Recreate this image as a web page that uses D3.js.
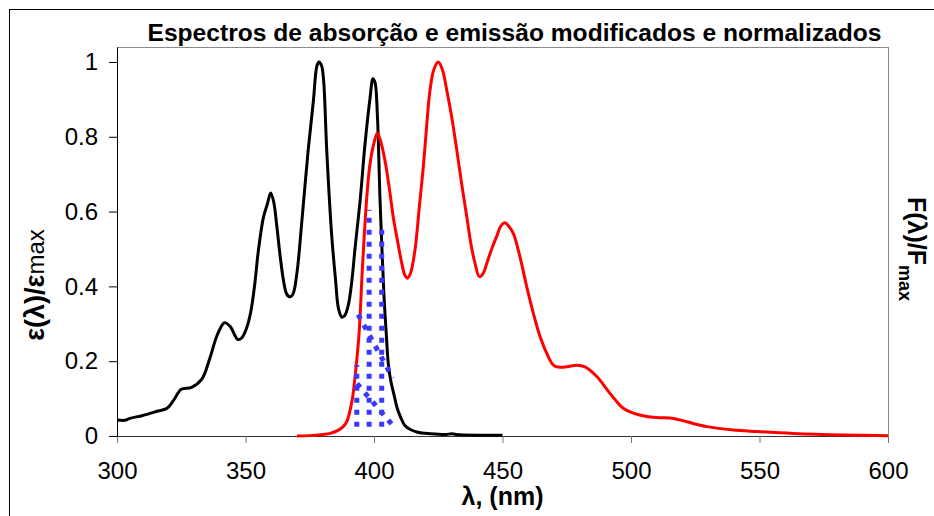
<!DOCTYPE html>
<html>
<head>
<meta charset="utf-8">
<script src="https://cdn.jsdelivr.net/npm/d3@7"></script>
<style>
  body { margin: 0; background: #fff; }
  svg { display: block; font-family: Arial, "Liberation Sans", sans-serif; }
</style>
</head>
<body>
<div id="chart"></div>
<script>
// Absorption spectrum (black), normalised
var absWavelength = [300, 303, 305, 310, 316, 319.5, 322, 325, 329, 333, 336, 339, 341.8, 344, 347, 348.5, 350.5, 352, 353.5, 355, 357, 358.5, 359.8, 361, 362.2, 363.5, 364.8, 366, 367.3, 368.5, 370, 372, 374.4, 376.4, 377.8, 378.6, 379.6, 380.4, 381.6, 383.5, 385, 386.2, 387.5, 388.6, 390, 391.3, 392.6, 394.6, 396.5, 398.4, 399.6, 400.4, 401.3, 402.3, 402.8, 403.4, 404, 404.8, 405.6, 406.6, 407.8, 409, 410.5, 412, 414, 417, 422, 428, 430, 432, 440, 450];
var absValue = [0.043, 0.042, 0.047, 0.055, 0.067, 0.074, 0.095, 0.125, 0.13, 0.152, 0.205, 0.27, 0.303, 0.293, 0.258, 0.262, 0.29, 0.33, 0.4, 0.495, 0.585, 0.62, 0.65, 0.625, 0.56, 0.48, 0.415, 0.38, 0.372, 0.38, 0.435, 0.58, 0.765, 0.895, 0.99, 1.0, 0.99, 0.95, 0.765, 0.54, 0.42, 0.34, 0.318, 0.322, 0.35, 0.41, 0.5, 0.63, 0.78, 0.9, 0.955, 0.945, 0.86, 0.64, 0.55, 0.45, 0.36, 0.27, 0.19, 0.145, 0.11, 0.075, 0.048, 0.028, 0.018, 0.01, 0.006, 0.004, 0.006, 0.004, 0.002, 0.002];

// Emission spectrum (red), normalised
var emWavelength = [370, 375, 380, 383, 386, 388, 389.5, 391.5, 392.8, 394.2, 395.5, 397.1, 398.3, 399.7, 401.3, 402.5, 404.3, 406, 407.5, 409.2, 410.8, 412, 413, 414.2, 416, 417.6, 419.2, 420.5, 421.8, 423.3, 425, 426.6, 428.3, 430.3, 432.2, 434.2, 436.1, 437.8, 439.3, 441, 442.5, 443.9, 445.8, 447.7, 449.5, 451, 452.5, 454.2, 456.8, 459.4, 462, 464.6, 467.8, 469.5, 471, 475, 478.9, 482.1, 486.7, 491.8, 497, 500.9, 506.1, 511, 516.5, 521.7, 529.5, 539.8, 548.9, 563.2, 582.6, 600];
var emValue = [0, 0.001, 0.004, 0.007, 0.015, 0.025, 0.04, 0.096, 0.17, 0.275, 0.45, 0.63, 0.72, 0.775, 0.81, 0.79, 0.735, 0.66, 0.585, 0.52, 0.462, 0.43, 0.422, 0.435, 0.5, 0.61, 0.72, 0.83, 0.925, 0.98, 1.0, 0.98, 0.925, 0.85, 0.765, 0.67, 0.586, 0.51, 0.462, 0.426, 0.435, 0.462, 0.5, 0.533, 0.563, 0.57, 0.56, 0.542, 0.479, 0.4, 0.328, 0.266, 0.212, 0.192, 0.185, 0.185, 0.189, 0.185, 0.159, 0.114, 0.074, 0.061, 0.052, 0.049, 0.047, 0.038, 0.025, 0.016, 0.012, 0.007, 0.003, 0.001];

// Overlap marker (blue dotted), separate strokes
var overlapSegments = [
  [[398.1, 0.025], [398.1, 0.605]],
  [[403.0, 0.025], [403.0, 0.56]],
  [[393.3, 0.025], [393.3, 0.19]],
  [[393.8, 0.325], [407.3, 0.155]],
  [[393.4, 0.14], [408.1, 0.022]]
];

var xTicks = [300, 350, 400, 450, 500, 550, 600];
var yTicks = [0, 0.2, 0.4, 0.6, 0.8, 1];
var yTickLabels = ['0', '0.2', '0.4', '0.6', '0.8', '1'];

var titleText = 'Espectros de absorção e emissão modificados e normalizados';

var W = 934, H = 516;
var margin = { top: 47, right: 46, bottom: 80, left: 117 };

var svg = d3.select('#chart').append('svg')
  .attr('width', W)
  .attr('height', H);

// outer chart frame
svg.append('rect')
  .attr('x', 9.5).attr('y', 9.5)
  .attr('width', 960).attr('height', 540)
  .attr('fill', 'none').attr('stroke', '#000');

var x = d3.scaleLinear().domain([300, 600]).range([margin.left, W - margin.right]);
var y = d3.scaleLinear().domain([0, 1.04]).range([H - margin.bottom, margin.top]);

// plot area box (grey top/right)
svg.append('rect')
  .attr('x', x(300) + 0.5).attr('y', y(1.04) + 0.5)
  .attr('width', x(600) - x(300)).attr('height', y(0) - y(1.04))
  .attr('fill', 'none').attr('stroke', '#8a8a8a');

// x axis
var xAxis = svg.append('g')
  .attr('transform', 'translate(0,' + y(0) + ')')
  .call(d3.axisBottom(x).tickValues(xTicks).tickSize(7).tickSizeOuter(0).tickPadding(19));
xAxis.select('.domain').attr('stroke', '#333');
xAxis.selectAll('.tick line').attr('stroke', '#777');
xAxis.selectAll('.tick text')
  .attr('font-size', '24px').attr('font-family', 'Arial, "Liberation Sans", sans-serif').attr('fill', '#000');

// y axis
var yAxis = svg.append('g')
  .attr('transform', 'translate(' + x(300) + ',0)')
  .call(d3.axisLeft(y).tickValues(yTicks).tickSize(8).tickSizeOuter(0).tickPadding(11)
    .tickFormat(function(d, i) { return yTickLabels[i]; }));
yAxis.select('.domain').attr('stroke', '#000');
yAxis.selectAll('.tick line').attr('stroke', '#000');
yAxis.selectAll('.tick text')
  .attr('font-size', '24px').attr('font-family', 'Arial, "Liberation Sans", sans-serif').attr('fill', '#000');

// curves
var line = d3.line()
  .x(function(d) { return x(d[0]); })
  .y(function(d) { return y(d[1]); })
  .curve(d3.curveCatmullRom.alpha(0.5));

var absData = absWavelength.map(function(w, i) { return [w, absValue[i]]; });
var emData = emWavelength.map(function(w, i) { return [w, emValue[i]]; });

svg.append('path')
  .datum(absData)
  .attr('d', line)
  .attr('fill', 'none').attr('stroke', '#000').attr('stroke-width', 3)
  .attr('stroke-linejoin', 'round');

svg.append('path')
  .datum(emData)
  .attr('d', line)
  .attr('fill', 'none').attr('stroke', '#ff0000').attr('stroke-width', 3)
  .attr('stroke-linejoin', 'round');

var straight = d3.line()
  .x(function(d) { return x(d[0]); })
  .y(function(d) { return y(d[1]); });

svg.selectAll('path.overlap')
  .data(overlapSegments)
  .enter()
  .append('path')
  .attr('class', 'overlap')
  .attr('d', straight)
  .attr('fill', 'none').attr('stroke', '#3838ff')
  .attr('stroke-width', 5)
  .attr('stroke-dasharray', '5,7');

// title
svg.append('text')
  .attr('x', 514.5).attr('y', 40.5)
  .attr('text-anchor', 'middle')
  .attr('font-size', '24.6px').attr('font-weight', 'bold')
  .text(titleText);

// x axis title
svg.append('text')
  .attr('x', (x(300) + x(600)) / 2).attr('y', 505)
  .attr('text-anchor', 'middle')
  .attr('font-size', '25px').attr('font-weight', 'bold')
  .text('λ, (nm)');

// left y title
var yTitle = svg.append('text')
  .attr('transform', 'translate(44,285) rotate(-90)')
  .attr('text-anchor', 'middle');
yTitle.append('tspan').attr('font-size', '27px').attr('font-weight', 'bold').text('ε(λ)/ε');
yTitle.append('tspan').attr('font-size', '24px').text('max');

// right title
var rTitle = svg.append('text')
  .attr('transform', 'translate(908,197) rotate(90)');
rTitle.append('tspan').attr('font-size', '25px').attr('font-weight', 'bold').text('F(λ)/F');
rTitle.append('tspan').attr('font-size', '18px').attr('font-weight', 'bold').attr('dy', 9).text('max');
</script>
</body>
</html>
